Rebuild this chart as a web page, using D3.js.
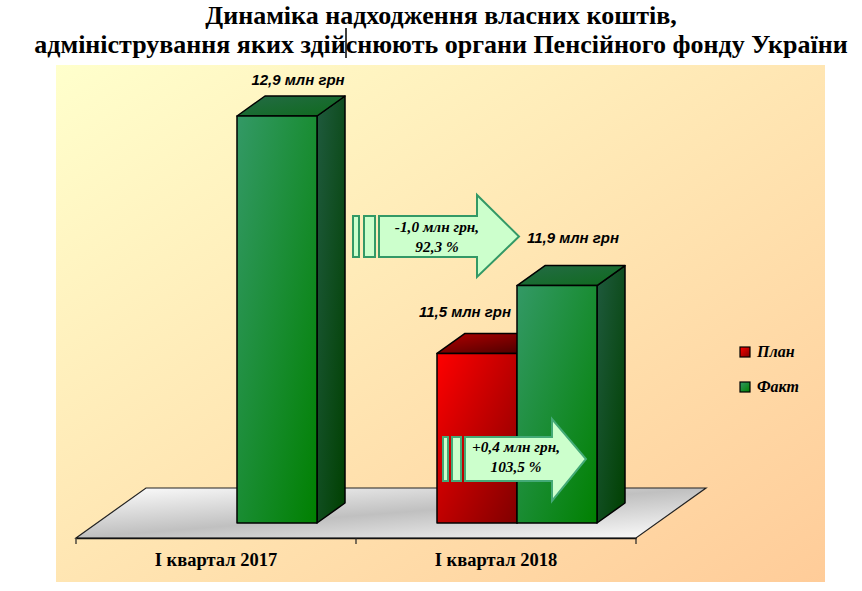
<!DOCTYPE html>
<html>
<head>
<meta charset="utf-8">
<script src="https://cdn.jsdelivr.net/npm/d3@7"></script>
<style>
  html, body { margin: 0; padding: 0; background: #fff; }
  svg { display: block; }
</style>
</head>
<body>
<div id="plot"></div>
<script>
const categories = ["І квартал 2017", "І квартал 2018"];
const seriesNames = ["План", "Факт"];
const planValues = [null, 11.5];
const factValues = [12.9, 11.9];
const planLabels = [null, "11,5 млн грн"];
const factLabels = ["12,9 млн грн", "11,9 млн грн"];
const titleLines = ["Динаміка надходження власних коштів,", "адміністрування яких здійснюють органи Пенсійного фонду України"];
const arrowTexts = [["-1,0 млн грн,", "92,3 %"], ["+0,4 млн грн,", "103,5 %"]];

const width = 862, height = 591;
const svg = d3.select("#plot").append("svg").attr("width", width).attr("height", height);
const defs = svg.append("defs");

// diagonal gradient helper
function gradient(id, stops) {
  const g = defs.append("linearGradient").attr("id", id)
    .attr("x1", 0).attr("y1", 0).attr("x2", 1).attr("y2", 1);
  stops.forEach(s => g.append("stop").attr("offset", s[0]).attr("stop-color", s[1]));
}
gradient("panelFill", [[0, "#ffffcc"], [1, "#ffcc99"]]);
gradient("floorFill", [[0, "#ffffff"], [0.5, "#c0c0c0"], [1, "#ffffff"]]);
gradient("greenFront", [[0, "#339966"], [1, "#008000"]]);
gradient("greenTop", [[0, "#246b47"], [1, "#0f6a1c"]]);
gradient("greenSide", [[0, "#1f5a3e"], [1, "#004000"]]);
gradient("redFront", [[0, "#ff0000"], [1, "#800000"]]);
gradient("redTop", [[0, "#b30000"], [1, "#400000"]]);
gradient("redSide", [[0, "#b30000"], [1, "#400000"]]);

// title, with the stray text cursor of the screenshot
svg.selectAll("text.title").data(titleLines).enter().append("text")
  .attr("class", "title")
  .attr("x", 441)
  .attr("y", (d, i) => 23.5 + i * 29.5)
  .attr("text-anchor", "middle")
  .style("font", "bold 26px 'Liberation Serif'")
  .text(d => d);
svg.append("line").attr("x1", 346).attr("x2", 346).attr("y1", 28).attr("y2", 58)
  .attr("stroke", "#000").attr("stroke-width", 1.5);

svg.append("rect").attr("x", 56).attr("y", 65).attr("width", 769).attr("height", 517)
  .attr("fill", "url(#panelFill)");

// scales
const axisY = 538, floorDx = 70, floorDy = -50, barDx = 28, barDy = -20, baseShift = 21;
const x0 = d3.scaleBand().domain(categories).range([76, 636]);
const x1 = d3.scaleBand().domain(seriesNames).range([-80, 80]);
const y = d3.scaleLinear().domain([10.5, 12.9]).range([523, 116]);

// floor
const [fl, fr] = x0.range();
svg.append("path")
  .attr("d", `M${fl},${axisY}L${fl + floorDx},${axisY + floorDy}L${fr + floorDx},${axisY + floorDy}L${fr},${axisY}Z`)
  .attr("fill", "url(#floorFill)").attr("stroke", "#222").attr("stroke-width", 1.2);

// axis: labels from d3, ticks on the category boundaries
const axis = svg.append("g").attr("transform", `translate(0,${axisY})`)
  .call(d3.axisBottom(x0).tickSize(0).tickPadding(15));
axis.select(".domain").attr("stroke", "#111").attr("stroke-width", 1.5);
axis.selectAll("text")
  .style("font", "bold 18.5px 'Liberation Serif'")
  .attr("fill", "#000");
axis.selectAll("line.bound").data([fl, fl + x0.step(), fr]).enter().append("line")
  .attr("class", "bound")
  .attr("x1", d => d).attr("x2", d => d).attr("y1", 0).attr("y2", 6)
  .attr("stroke", "#222").attr("stroke-width", 1.2);

// 3D bars
const barWidth = x1.bandwidth();
function drawBar(cat, name, value, colour) {
  const left = x0(cat) + x0.bandwidth() / 2 + baseShift + x1(name);
  const right = left + barWidth;
  const top = y(value), base = y.range()[0];
  const g = svg.append("g").attr("stroke", "#000").attr("stroke-width", 1.5).attr("stroke-linejoin", "round");
  g.append("path")
    .attr("d", `M${right},${top}L${right + barDx},${top + barDy}L${right + barDx},${base + barDy}L${right},${base}Z`)
    .attr("fill", `url(#${colour}Side)`);
  g.append("path")
    .attr("d", `M${left},${top}L${left + barDx},${top + barDy}L${right + barDx},${top + barDy}L${right},${top}Z`)
    .attr("fill", `url(#${colour}Top)`);
  g.append("rect").attr("x", left).attr("y", top).attr("width", barWidth).attr("height", base - top)
    .attr("fill", `url(#${colour}Front)`);
}
categories.forEach((c, i) => {
  if (planValues[i] !== null) drawBar(c, "План", planValues[i], "red");
  if (factValues[i] !== null) drawBar(c, "Факт", factValues[i], "green");
});

// value labels
const labelPos = [
  { text: factLabels[0], x: 298, y: 85 },
  { text: factLabels[1], x: 573, y: 243 },
  { text: planLabels[1], x: 465, y: 317 }
];
svg.selectAll("text.val").data(labelPos).enter().append("text")
  .attr("class", "val")
  .attr("x", d => d.x).attr("y", d => d.y)
  .attr("text-anchor", "middle")
  .style("font", "italic bold 15px 'Liberation Sans'")
  .text(d => d.text);

// block arrows
function arrowPath(o) {
  const mid = (o.t + o.b) / 2;
  return `M${o.x},${o.t}L${o.neck},${o.t}L${o.neck},${o.headTop}L${o.tip},${mid}L${o.neck},${o.headBottom}L${o.neck},${o.b}L${o.x},${o.b}Z`;
}
function blockArrow(o) {
  const g = svg.append("g");
  const shape = g.append("g").attr("fill", "#ccffcc").attr("stroke", o.stroke).attr("stroke-width", 2);
  shape.append("rect").attr("x", o.s1).attr("y", o.t).attr("width", o.s1w).attr("height", o.b - o.t);
  shape.append("rect").attr("x", o.s2).attr("y", o.t).attr("width", o.s2w).attr("height", o.b - o.t);
  shape.append("path").attr("d", arrowPath(o));
  g.selectAll("text").data(o.lines).enter().append("text")
    .attr("x", o.tx)
    .attr("y", (d, i) => o.ty + i * 20)
    .attr("text-anchor", "middle")
    .style("font", "italic bold 15.3px 'Liberation Serif'")
    .text(d => d);
}
blockArrow({ s1: 353, s1w: 6, s2: 364, s2w: 11, x: 379, neck: 477, tip: 519, t: 216, b: 257,
  headTop: 195, headBottom: 277, stroke: "#339966", lines: arrowTexts[0], tx: 437, ty: 232 });
blockArrow({ s1: 443, s1w: 5, s2: 452, s2w: 9, x: 465, neck: 552, tip: 586, t: 437, b: 481,
  headTop: 419, headBottom: 501, stroke: "#44aa77", lines: arrowTexts[1], tx: 516, ty: 452 });

// legend
const legend = svg.selectAll("g.leg").data(seriesNames).enter().append("g").attr("class", "leg")
  .attr("transform", (d, i) => `translate(740,${347 + i * 35})`);
legend.append("rect").attr("width", 10).attr("height", 10)
  .attr("fill", (d, i) => i === 0 ? "url(#redFront)" : "url(#greenFront)")
  .attr("stroke", "#000").attr("stroke-width", 1.2);
legend.append("text").attr("x", 17).attr("y", 10)
  .style("font", "italic bold 16px 'Liberation Serif'")
  .text(d => d);
</script>
</body>
</html>
